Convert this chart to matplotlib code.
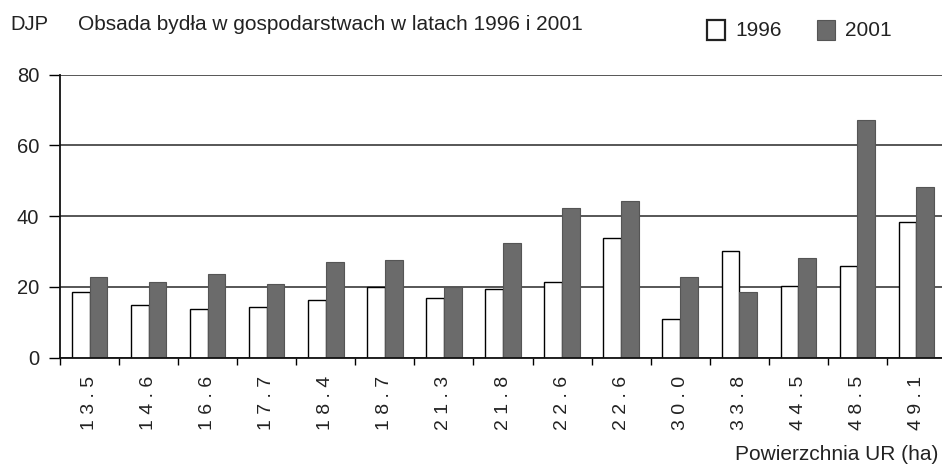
import matplotlib
matplotlib.use("Agg")
import matplotlib.pyplot as plt
from matplotlib.patches import Rectangle

plt.rcParams['font.family'] = ['Liberation Sans', 'DejaVu Sans']

# Powierzchnia UR (ha) - farm sizes
areas = ['13.5', '14.6', '16.6', '17.7', '18.4', '18.7', '21.3', '21.8',
         '22.6', '22.6', '30.0', '33.8', '44.5', '48.5', '49.1']
# DJP per farm
djp_1996 = [18.5, 15.0, 13.7, 14.2, 16.3, 20.0, 17.0, 19.5,
            21.4, 33.7, 11.0, 30.1, 20.2, 26.0, 38.4]
djp_2001 = [22.9, 21.5, 23.6, 20.8, 27.0, 27.5, 19.9, 32.5,
            42.3, 44.2, 22.8, 18.5, 28.2, 67.1, 48.3]
yticks = [0, 20, 40, 60, 80]

GRAY = '#6b6b6b'

fig = plt.figure(figsize=(9.42, 4.72), dpi=100)
ax = fig.add_axes([60 / 942, 1 - 357.7 / 472, 886 / 942, 283 / 472])

x = list(range(len(areas)))
w = 0.3
ax.bar([i - w / 2 for i in x], djp_1996, width=w, color='white',
       edgecolor='black', linewidth=1.0, zorder=2)
ax.bar([i + w / 2 for i in x], djp_2001, width=w, color=GRAY,
       edgecolor='#555555', linewidth=0.8, zorder=2)

ax.set_xlim(-0.5, len(areas) - 0.5)
ax.set_ylim(0, 80)
ax.set_yticks(yticks)
ax.set_yticklabels([str(v) for v in yticks], fontsize=14.5, color='#222222')
ax.yaxis.grid(True, color='#3a3a3a', linewidth=1.2, zorder=0)
ax.set_axisbelow(True)

for s in ['top', 'right']:
    ax.spines[s].set_visible(False)
for s in ['left', 'bottom']:
    ax.spines[s].set_linewidth(1.3)
    ax.spines[s].set_color('#111111')

ax.tick_params(axis='y', direction='out', length=8, width=1, pad=7)

# tick marks between categories, labels at centres
ax.set_xticks(x)
ax.set_xticklabels([' '.join(a) for a in areas], rotation=90,
                   fontsize=14, va='top', ha='center', color='#222222')
ax.set_xticks([i - 0.5 for i in range(len(areas) + 1)], minor=True)
ax.tick_params(axis='x', which='major', length=0, pad=13)
ax.tick_params(axis='x', which='minor', length=5, width=1)

fig.text(10 / 942, 1 - 25 / 472, 'DJP', fontsize=14.5, va='center', ha='left',
         color='#222222')
fig.text(78 / 942, 1 - 25 / 472, 'Obsada bydła w gospodarstwach w latach 1996 i 2001',
         fontsize=15, va='center', ha='left', color='#222222')

# legend drawn by hand
fig.patches.append(Rectangle((707 / 942, 1 - 40 / 472), 18 / 942, 20 / 472,
                             transform=fig.transFigure, facecolor='white',
                             edgecolor='#222222', linewidth=1.6))
fig.text(735 / 942, 1 - 30 / 472, '1996', fontsize=15, va='center', ha='left',
         color='#222222')
fig.patches.append(Rectangle((817 / 942, 1 - 40 / 472), 18 / 942, 20 / 472,
                             transform=fig.transFigure, facecolor=GRAY,
                             edgecolor='#555555', linewidth=0.8))
fig.text(845 / 942, 1 - 30 / 472, '2001', fontsize=15, va='center', ha='left',
         color='#222222')

fig.text(938 / 942, 1 - 454 / 472, 'Powierzchnia UR (ha)', fontsize=15,
         va='center', ha='right', color='#222222')

fig.savefig('out.png', dpi=100)
